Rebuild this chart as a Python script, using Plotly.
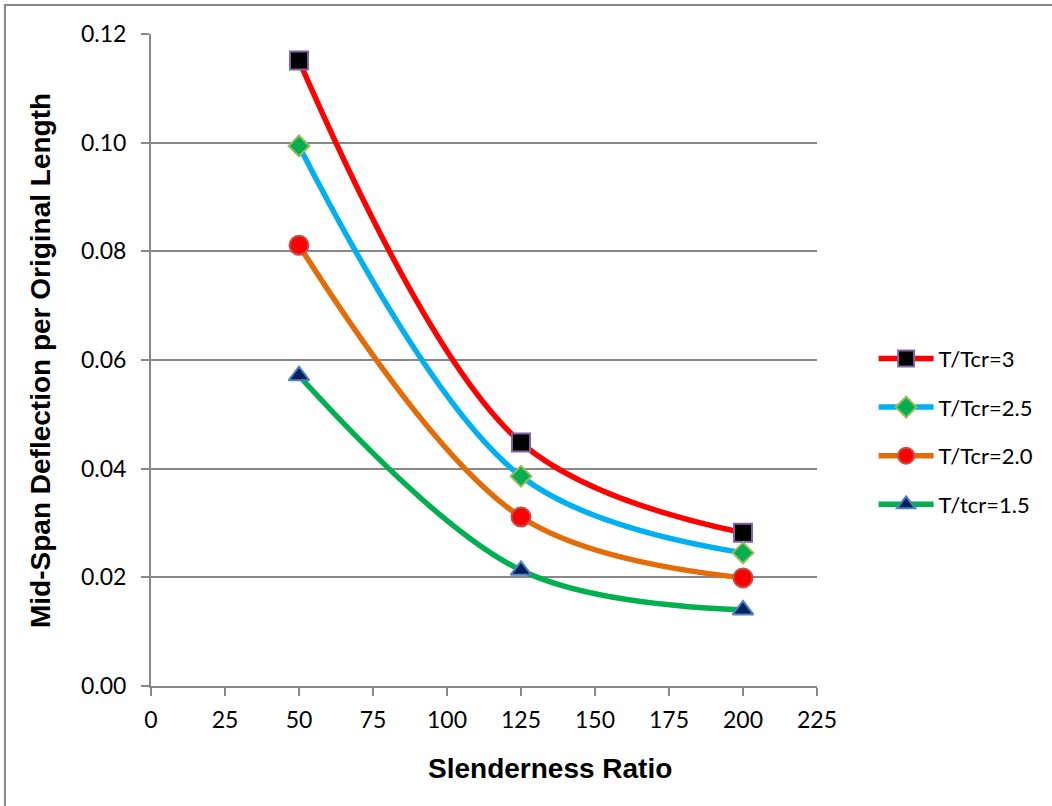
import plotly.graph_objects as go

# Slenderness ratios and mid-span deflection per original length
slenderness = [50, 125, 200]
defl_3_0 = [0.1151, 0.0448, 0.0282]
defl_2_5 = [0.0994, 0.0386, 0.0245]
defl_2_0 = [0.0811, 0.0311, 0.0199]
defl_1_5 = [0.0571, 0.0213, 0.0140]

x_ticks = [0, 25, 50, 75, 100, 125, 150, 175, 200, 225]
y_ticks = [0, 0.02, 0.04, 0.06, 0.08, 0.10, 0.12]

series = [
    ("T/Tcr=3", defl_3_0, "#ff0000", dict(symbol="square", size=18, color="#000000",
                                          line=dict(color="#8064a2", width=2))),
    ("T/Tcr=2.5", defl_2_5, "#00b0f0", dict(symbol="diamond", size=16, color="#00b050",
                                            line=dict(color="#9bbb59", width=2))),
    ("T/Tcr=2.0", defl_2_0, "#e36c09", dict(symbol="circle", size=19, color="#ff0000",
                                            line=dict(color="#c0504d", width=2))),
    ("T/tcr=1.5", defl_1_5, "#00b050", dict(symbol="triangle-up", size=18, color="#002060",
                                            line=dict(color="#4f81bd", width=2))),
]

fig = go.Figure()
for name, vals, col, mk in series:
    fig.add_trace(go.Scatter(
        x=slenderness, y=vals, name=name, legendgroup=name, mode="lines+markers",
        line=dict(color=col, width=5.5, shape="spline", smoothing=1.0),
        marker=mk,
    ))

tick_font = dict(family="Lato, Carlito, Liberation Sans, Arial", size=23, color="#000000")
title_font = dict(family="Liberation Sans, Arial", size=28, color="#000000")

fig.update_layout(
    width=1052, height=806,
    margin=dict(l=151, r=235, t=34, b=120),
    paper_bgcolor="white", plot_bgcolor="white",
    showlegend=True,
    legend=dict(x=1.085, y=0.39, xanchor="left", yanchor="middle",
                font=dict(family="Lato, Carlito, Liberation Sans, Arial", size=22, color="#000000"),
                tracegroupgap=17, itemwidth=55),
    shapes=[dict(type="rect", xref="paper", yref="paper",
                 x0=(5 - 151) / 666, x1=1.6, y0=-0.4, y1=(686 - 5) / 652,
                 line=dict(color="#888888", width=2), layer="below")],
    annotations=[
        dict(text="<b>Slenderness Ratio</b>", xref="paper", yref="paper",
             x=(550 - 151) / 666, y=(686 - 768) / 652, xanchor="center", yanchor="middle",
             showarrow=False, font=title_font),
        dict(text="<b>Mid-Span Deflection per Original Length</b>", xref="paper", yref="paper",
             x=(40 - 151) / 666, y=(686 - 361) / 652, xanchor="center", yanchor="middle",
             textangle=-90, showarrow=False, font=title_font),
    ],
)

fig.update_xaxes(
    range=[0, 225], tickvals=x_ticks,
    showgrid=False, showline=True, linecolor="#888888", linewidth=2,
    ticks="outside", ticklen=8, tickcolor="#888888", tickwidth=2,
    tickfont=tick_font, zeroline=False, ticklabelstandoff=4,
)
fig.update_yaxes(
    range=[0, 0.12], tickvals=y_ticks, tickformat=".2f",
    showgrid=True, gridcolor="#888888", gridwidth=1.5,
    showline=True, linecolor="#888888", linewidth=2,
    ticks="outside", ticklen=8, tickcolor="#888888", tickwidth=2,
    tickfont=tick_font, zeroline=False, ticklabelstandoff=10,
)

fig.write_html("out.html")
